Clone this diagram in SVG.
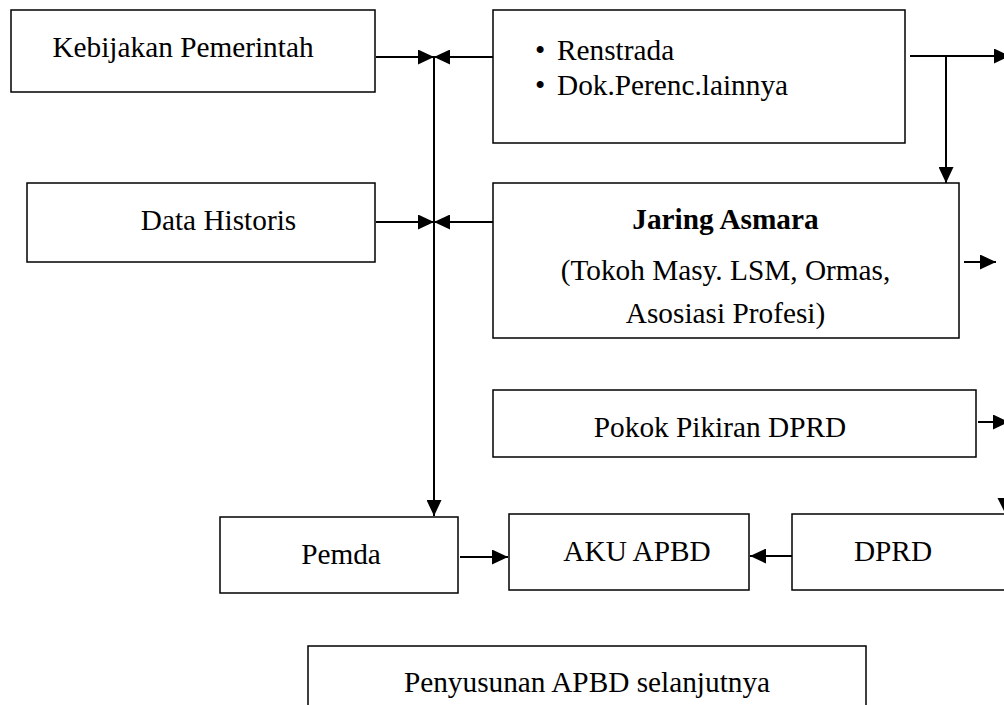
<svg xmlns="http://www.w3.org/2000/svg" width="1004" height="705" viewBox="0 0 1004 705">
<style>
.box{fill:#fff;stroke:#000;stroke-width:1.5}
.t{font-family:"Liberation Serif","Times New Roman",serif;font-size:29.3px;fill:#000}
.m{text-anchor:middle}
.b{font-weight:bold}
.c{fill:none;stroke:#000;stroke-width:2}
</style>
<defs>
<marker id="ah" markerUnits="userSpaceOnUse" markerWidth="16" markerHeight="15" refX="16" refY="7.5" orient="auto" viewBox="0 0 16 15">
<path d="M0,0 L16,7.5 L0,15 z" fill="#000"/>
</marker>
</defs>
<rect width="1004" height="705" fill="#fff"/>
<g id="connectors">
<line class="c" x1="434" y1="57" x2="434" y2="516" marker-end="url(#ah)"/>
<line class="c" x1="376" y1="57" x2="434" y2="57" marker-end="url(#ah)"/>
<line class="c" x1="493" y1="57" x2="434" y2="57" marker-end="url(#ah)"/>
<line class="c" x1="376" y1="222" x2="434" y2="222" marker-end="url(#ah)"/>
<line class="c" x1="493" y1="222" x2="434" y2="222" marker-end="url(#ah)"/>
<line class="c" x1="910" y1="56" x2="1010" y2="56" marker-end="url(#ah)"/>
<line class="c" x1="946" y1="56" x2="946" y2="183" marker-end="url(#ah)"/>
<line class="c" x1="964" y1="262" x2="996" y2="262" marker-end="url(#ah)"/>
<line class="c" x1="978" y1="422" x2="1009" y2="422" marker-end="url(#ah)"/>
<path d="M997.5,498 L1012.5,498 L1005,513 z" fill="#000"/>
<line class="c" x1="460" y1="557" x2="508" y2="557" marker-end="url(#ah)"/>
<line class="c" x1="792" y1="556" x2="750" y2="556" marker-end="url(#ah)"/>
</g>
<g id="kebijakan">
<rect class="box" x="11" y="10" width="364" height="82"/>
<text class="t m" x="183" y="57">Kebijakan Pemerintah</text>
</g>
<g id="data-historis">
<rect class="box" x="27" y="183" width="348" height="79"/>
<text class="t m" x="218.5" y="230">Data Historis</text>
</g>
<g id="renstrada">
<rect class="box" x="493" y="10" width="412" height="133"/>
<text class="t" y="60"><tspan x="535">•</tspan><tspan x="557">Renstrada</tspan></text>
<text class="t" y="95"><tspan x="535">•</tspan><tspan x="557">Dok.Perenc.lainnya</tspan></text>
</g>
<g id="jaring-asmara">
<rect class="box" x="493" y="183" width="466" height="155"/>
<text class="t m b" x="725.5" y="229">Jaring Asmara</text>
<text class="t m" x="725.5" y="280">(Tokoh Masy. LSM, Ormas,</text>
<text class="t m" x="725.5" y="323">Asosiasi Profesi)</text>
</g>
<g id="pokok-pikiran">
<rect class="box" x="493" y="390" width="483" height="67"/>
<text class="t m" x="720" y="437">Pokok Pikiran DPRD</text>
</g>
<g id="pemda">
<rect class="box" x="220" y="517" width="238" height="76"/>
<text class="t m" x="341" y="564">Pemda</text>
</g>
<g id="aku-apbd">
<rect class="box" x="509" y="514" width="240" height="76"/>
<text class="t m" x="637" y="561">AKU APBD</text>
</g>
<g id="dprd">
<rect class="box" x="792" y="514" width="230" height="76"/>
<text class="t m" x="893" y="561">DPRD</text>
</g>
<g id="penyusunan">
<rect class="box" x="308" y="646" width="558" height="80"/>
<text class="t m" x="587" y="692">Penyusunan APBD selanjutnya</text>
</g>
</svg>
